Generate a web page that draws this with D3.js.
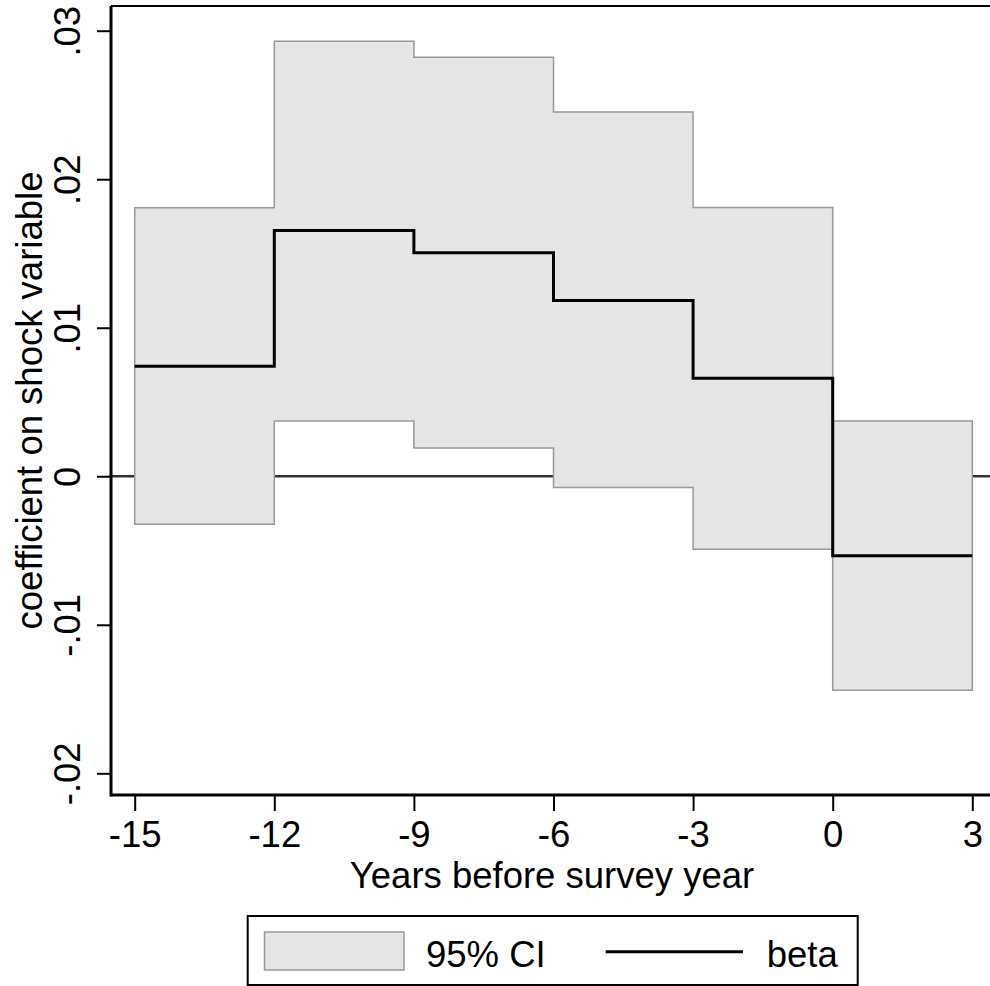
<!DOCTYPE html>
<html>
<head>
<meta charset="utf-8">
<script src="https://cdn.jsdelivr.net/npm/d3@7"></script>
<style>
  body { margin: 0; background: #fff; }
  text { font-family: "Liberation Sans", Arial, Helvetica, sans-serif; fill: #000; }
</style>
</head>
<body>
<div id="chart"></div>
<script>
// years where each 3-year bin starts (last entry closes the final bin)
const binStart = [-15, -12, -9, -6, -3, 0, 3];
const beta  = [0.0074, 0.01655, 0.01505, 0.01184, 0.0066, -0.00536];
const ciHi  = [0.01808, 0.02929, 0.02822, 0.02452, 0.0181, 0.00372];
const ciLo  = [-0.00323, 0.00372, 0.0019, -0.00076, -0.00491, -0.0144];
const xTicks = [-15, -12, -9, -6, -3, 0, 3];
const yTicks = [-0.02, -0.01, 0, 0.01, 0.02, 0.03];

const width = 990;
const height = 986;
const plot = {left: 111, top: 6, right: 993, bottom: 795};
const fontSize = 36.5;

const svg = d3.select("#chart")
    .append("svg")
    .attr("width", width)
    .attr("height", height);

const xScale = d3.scaleLinear()
    .domain([-15, 3])
    .range([134.7, 972.3]);

const yScale = d3.scaleLinear()
    .domain([-0.02, 0.03])
    .range([773.3, 30.7]);

// step data, the last bin value is repeated at the closing year
const steps = binStart.map(function(x, i) {
    const j = Math.min(i, beta.length - 1);
    return {x: x, b: beta[j], hi: ciHi[j], lo: ciLo[j]};
});

// zero line (under the band)
svg.append("line")
    .attr("x1", plot.left).attr("x2", plot.right)
    .attr("y1", yScale(0)).attr("y2", yScale(0))
    .attr("stroke", "#333")
    .attr("stroke-width", 2.5);

const area = d3.area()
    .curve(d3.curveStepAfter)
    .x(function(d) { return xScale(d.x); })
    .y0(function(d) { return yScale(d.lo); })
    .y1(function(d) { return yScale(d.hi); });

svg.append("path")
    .datum(steps)
    .attr("d", area)
    .attr("fill", "#e5e5e5")
    .attr("stroke", "#999")
    .attr("stroke-width", 1.5);

const line = d3.line()
    .curve(d3.curveStepAfter)
    .x(function(d) { return xScale(d.x); })
    .y(function(d) { return yScale(d.b); });

svg.append("path")
    .datum(steps)
    .attr("d", line)
    .attr("fill", "none")
    .attr("stroke", "#000")
    .attr("stroke-width", 3);

// top border of the plot region
svg.append("line")
    .attr("x1", plot.left).attr("x2", plot.right)
    .attr("y1", plot.top).attr("y2", plot.top)
    .attr("stroke", "#000")
    .attr("stroke-width", 2);

// axes
const xAxis = svg.append("g")
    .attr("transform", `translate(0,${plot.bottom})`)
    .call(d3.axisBottom(xScale).tickValues(xTicks).tickSize(16)
        .tickFormat(function(d) { return String(d); }));

const yAxis = svg.append("g")
    .attr("transform", `translate(${plot.left},0)`)
    .call(d3.axisLeft(yScale).tickValues(yTicks).tickSize(14)
        .tickFormat(function(d) {
            if (d === 0) return "0";
            return d3.format(".2f")(d).replace("0.", ".").replace("\u2212", "-");
        }));

[xAxis, yAxis].forEach(function(ax) {
    ax.select(".domain").remove();
    ax.selectAll(".tick line").attr("stroke", "#000").attr("stroke-width", 2);
    ax.selectAll("text").attr("font-size", fontSize).attr("fill", "#000");
});

xAxis.append("line")
    .attr("x1", plot.left).attr("x2", plot.right)
    .attr("stroke", "#000").attr("stroke-width", 3);
yAxis.append("line")
    .attr("y1", plot.top).attr("y2", plot.bottom + 1.5)
    .attr("stroke", "#000").attr("stroke-width", 3);

xAxis.selectAll(".tick text")
    .attr("y", 52)
    .attr("dy", 0);

yAxis.selectAll(".tick text")
    .attr("text-anchor", "middle")
    .attr("dy", 0)
    .attr("x", 0)
    .attr("y", 0)
    .attr("transform", "translate(-31,0) rotate(-90)");

// axis titles
svg.append("text")
    .attr("x", (plot.left + plot.right) / 2)
    .attr("y", 888)
    .attr("text-anchor", "middle")
    .attr("font-size", fontSize)
    .text("Years before survey year");

svg.append("text")
    .attr("transform", `translate(42,${(plot.top + plot.bottom) / 2}) rotate(-90)`)
    .attr("text-anchor", "middle")
    .attr("font-size", fontSize)
    .text("coefficient on shock variable");

// legend
const legend = svg.append("g");
legend.append("rect")
    .attr("x", 247.7).attr("y", 916)
    .attr("width", 610).attr("height", 69)
    .attr("fill", "#fff")
    .attr("stroke", "#000")
    .attr("stroke-width", 2);
legend.append("rect")
    .attr("x", 264.5).attr("y", 932)
    .attr("width", 139.5).attr("height", 38)
    .attr("fill", "#e5e5e5")
    .attr("stroke", "#999")
    .attr("stroke-width", 1.5);
legend.append("text")
    .attr("x", 426).attr("y", 967)
    .attr("font-size", fontSize)
    .text("95% CI");
legend.append("line")
    .attr("x1", 605.7).attr("x2", 743)
    .attr("y1", 951.7).attr("y2", 951.7)
    .attr("stroke", "#000")
    .attr("stroke-width", 3);
legend.append("text")
    .attr("x", 766.7).attr("y", 967)
    .attr("font-size", fontSize)
    .text("beta");
</script>
</body>
</html>
